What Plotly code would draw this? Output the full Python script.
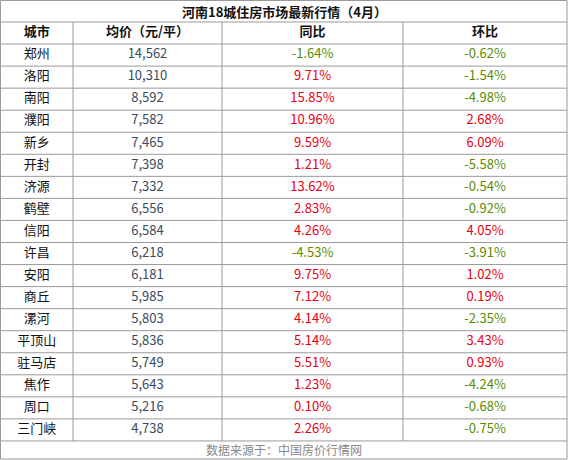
import plotly.graph_objects as go

cities = ["郑州", "洛阳", "南阳", "濮阳", "新乡", "开封", "济源", "鹤壁", "信阳", "许昌",
          "安阳", "商丘", "漯河", "平顶山", "驻马店", "焦作", "周口", "三门峡"]
prices = [14562, 10310, 8592, 7582, 7465, 7398, 7332, 6556, 6584, 6218,
          6181, 5985, 5803, 5836, 5749, 5643, 5216, 4738]
yoy = [-1.64, 9.71, 15.85, 10.96, 9.59, 1.21, 13.62, 2.83, 4.26, -4.53,
       9.75, 7.12, 4.14, 5.14, 5.51, 1.23, 0.10, 2.26]
mom = [-0.62, -1.54, -4.98, 2.68, 6.09, -5.58, -0.54, -0.92, 4.05, -3.91,
       1.02, 0.19, -2.35, 3.43, 0.93, -4.24, -0.68, -0.75]
headers = ["<b>城市</b>", "<b>均价（元/平）</b>", "<b>同比</b>", "<b>环比</b>"]

RED = "#e60012"
GREEN = "#5b8c00"
GRID = "#9a9a9a"
FONT = "Noto Sans CJK SC"

W, H = 568, 460
# column edges in pixels
edges = [0.5, 73, 222, 403, 567]
centers = [(edges[i] + edges[i + 1]) / 2 for i in range(4)]
top, row_h = 22, 22.05
n = len(cities)
bottom = top + (n + 1) * row_h


def pct_color(vals):
    return [RED if v > 0 else GREEN for v in vals]


row_y = [top + row_h * (i + 1.5) for i in range(n)]
cols = [
    (cities, ["#111"] * n),
    ([f"{p:,}" for p in prices], ["#3d4a5c"] * n),
    ([f"{v:.2f}%" for v in yoy], pct_color(yoy)),
    ([f"{v:.2f}%" for v in mom], pct_color(mom)),
]

fig = go.Figure()
for cx, (texts, colors) in zip(centers, cols):
    fig.add_trace(go.Scatter(x=[cx] * n, y=row_y, text=texts, mode="text",
                             textfont=dict(family=FONT, size=13, color=colors),
                             hoverinfo="skip"))
fig.add_trace(go.Scatter(x=centers, y=[top + row_h / 2] * 4, text=headers, mode="text",
                         textfont=dict(family=FONT, size=13, color="#111"),
                         hoverinfo="skip"))

line = dict(color=GRID, width=1)
for k in range(n + 2):
    y = top + k * row_h
    fig.add_shape(type="line", x0=edges[0], x1=edges[-1], y0=y, y1=y, line=line)
for x in edges[1:-1]:
    fig.add_shape(type="line", x0=x, x1=x, y0=top, y1=bottom, line=line)
fig.add_shape(type="rect", x0=edges[0], x1=edges[-1], y0=0.5, y1=H - 1, line=line)

fig.add_annotation(text="<b>河南18城住房市场最新行情（4月）</b>", x=W / 2, y=top / 2,
                   showarrow=False, font=dict(family=FONT, size=13, color="#111"))
fig.add_annotation(text="数据来源于：中国房价行情网", x=W / 2, y=(bottom + H - 1) / 2,
                   showarrow=False, font=dict(family=FONT, size=12, color="#888"))

fig.update_xaxes(range=[0, W], visible=False, fixedrange=True)
fig.update_yaxes(range=[H, 0], visible=False, fixedrange=True)
fig.update_layout(width=W, height=H, margin=dict(l=0, r=0, t=0, b=0),
                  paper_bgcolor="white", plot_bgcolor="white", showlegend=False)
fig.write_html("out.html", config=dict(displayModeBar=False),
               post_script="document.body.style.margin='0';"
                           "document.body.style.overflow='hidden';")
